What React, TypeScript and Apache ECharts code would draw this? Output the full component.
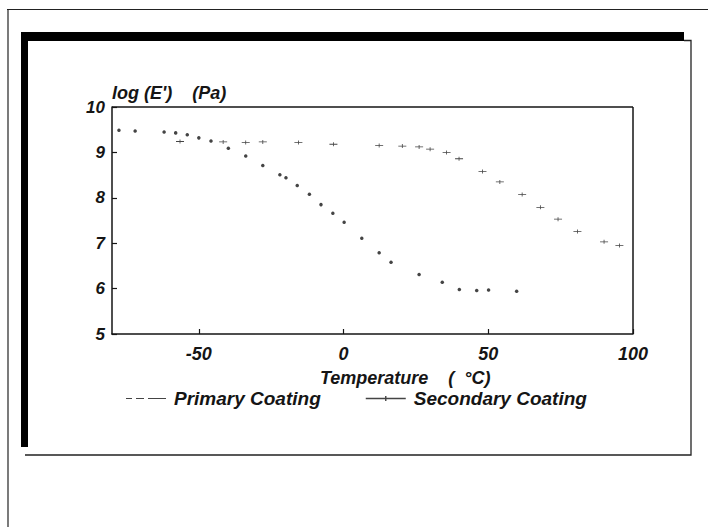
import React, { useEffect, useRef } from "react";
import * as echarts from "echarts";

const tempPrimary = [-77.6, -72, -62, -58, -54, -50, -45.8, -39.8, -33.8, -27.9, -22, -19.9, -16, -11.8, -7.8, -3.7, 0.2, 6.3, 12.3, 16.4, 26.1, 34.1, 40, 46, 50.1, 59.8];
const logEPrimary = [9.49, 9.47, 9.45, 9.43, 9.39, 9.32, 9.25, 9.09, 8.92, 8.71, 8.51, 8.44, 8.27, 8.08, 7.85, 7.66, 7.46, 7.11, 6.79, 6.58, 6.31, 6.14, 5.98, 5.96, 5.97, 5.94];

const tempSecondary = [-56.5, -41.6, -33.8, -27.9, -15.6, -3.5, 12.3, 20.3, 26.1, 29.9, 35.6, 39.9, 48, 54, 61.7, 68, 74.1, 80.8, 90, 95.3];
const logESecondary = [9.24, 9.23, 9.22, 9.23, 9.22, 9.18, 9.15, 9.14, 9.12, 9.07, 9.0, 8.86, 8.58, 8.35, 8.07, 7.79, 7.53, 7.26, 7.03, 6.95];

const xTicks = [-50, 0, 50, 100];
const seriesNames = ["Primary Coating", "Secondary Coating"];

const FONT = "'Liberation Sans', Arial, sans-serif";
const INK = "#151515";

const plusPath = "path://M0,3.2 H16 V4.8 H0 Z M7.2,0 H8.8 V8 H7.2 Z";
const dashIcon = "path://M0,3.4 H6 V4.6 H0 Z M10,3.4 H18 V4.6 H10 Z M22,3.4 H40 V4.6 H22 Z";
const solidPlusIcon = "path://M0,3.3 H40 V4.7 H0 Z M19.3,1.5 H20.7 V6.5 H19.3 Z";

export default function App() {
  const ref = useRef<HTMLDivElement>(null);
  useEffect(() => {
    if (!ref.current) return;
    const chart = echarts.init(ref.current, undefined, { renderer: "svg" });
    const primary = tempPrimary.map((t, i) => [t, logEPrimary[i]]);
    const secondary = tempSecondary.map((t, i) => [t, logESecondary[i]]);
    const labelStyle = { fontSize: 18, fontStyle: "italic", fontWeight: "bold", fontFamily: FONT, color: INK };
    chart.setOption({
      animation: false,
      backgroundColor: "#ffffff",
      textStyle: { fontFamily: FONT, fontStyle: "italic", color: INK },
      grid: { left: 112, top: 107, right: 75, bottom: 193, containLabel: false },
      xAxis: {
        type: "value",
        min: -80,
        max: 100,
        axisLine: { show: true, onZero: false, lineStyle: { color: INK, width: 1.5 } },
        axisTick: { show: true, inside: true, length: 5, customValues: xTicks, lineStyle: { color: INK, width: 1.2 } },
        axisLabel: { customValues: xTicks, margin: 11, ...labelStyle },
        splitLine: { show: false },
      },
      yAxis: {
        type: "value",
        min: 5,
        max: 10,
        interval: 1,
        axisLine: { show: true, onZero: false, lineStyle: { color: INK, width: 1.5 } },
        axisTick: { show: true, inside: true, length: 5, lineStyle: { color: INK, width: 1.2 } },
        axisLabel: { margin: 7, ...labelStyle, fontSize: 17 },
        splitLine: { show: false },
      },
      legend: {
        show: true,
        left: 121,
        top: 384,
        itemGap: 45,
        itemWidth: 40,
        itemHeight: 8,
        textStyle: { fontSize: 19, fontStyle: "italic", fontWeight: "bold", fontFamily: FONT, color: INK, padding: [0, 0, 0, 3] },
        data: [
          { name: seriesNames[0], icon: dashIcon, itemStyle: { color: INK } },
          { name: seriesNames[1], icon: solidPlusIcon, itemStyle: { color: INK } },
        ],
      },
      graphic: [
        // outer frame
        { type: "line", shape: { x1: 7, y1: 9.5, x2: 708, y2: 9.5 }, style: { stroke: "#222", lineWidth: 1.2 } },
        { type: "line", shape: { x1: 8, y1: 9, x2: 8, y2: 527 }, style: { stroke: "#222", lineWidth: 1.2 } },
        // inner frame
        { type: "rect", shape: { x: 21, y: 32, width: 663, height: 9 }, style: { fill: "#000" } },
        { type: "rect", shape: { x: 21, y: 32, width: 7, height: 415 }, style: { fill: "#000" } },
        { type: "polyline", shape: { points: [[684, 40.5], [691, 40.5], [691, 455], [25, 455]] }, style: { stroke: "#222", lineWidth: 1.3, fill: "none" } },
        // plot box top/right
        { type: "line", shape: { x1: 112, y1: 107, x2: 633, y2: 107 }, style: { stroke: INK, lineWidth: 1.5 } },
        { type: "line", shape: { x1: 633, y1: 107, x2: 633, y2: 334 }, style: { stroke: INK, lineWidth: 1.5 } },
        // axis names
        { type: "text", x: 112, y: 84, style: { text: "log (E')    (Pa)", font: `italic bold 18px ${FONT}`, fill: INK } },
        { type: "text", x: 320, y: 369, style: { text: "Temperature    (  °C)", font: `italic bold 18px ${FONT}`, fill: INK } },
      ],
      series: [
        {
          name: seriesNames[0],
          type: "scatter",
          data: primary,
          symbol: "circle",
          symbolSize: 3.5,
          itemStyle: { color: INK },
        },
        {
          name: seriesNames[1],
          type: "scatter",
          data: secondary,
          symbol: plusPath,
          symbolSize: [8, 4],
          itemStyle: { color: INK },
        },
      ],
    });
    return () => chart.dispose();
  }, []);
  return <div ref={ref} style={{ position: "fixed", left: 0, top: 0, width: 708, height: 527 }} />;
}
